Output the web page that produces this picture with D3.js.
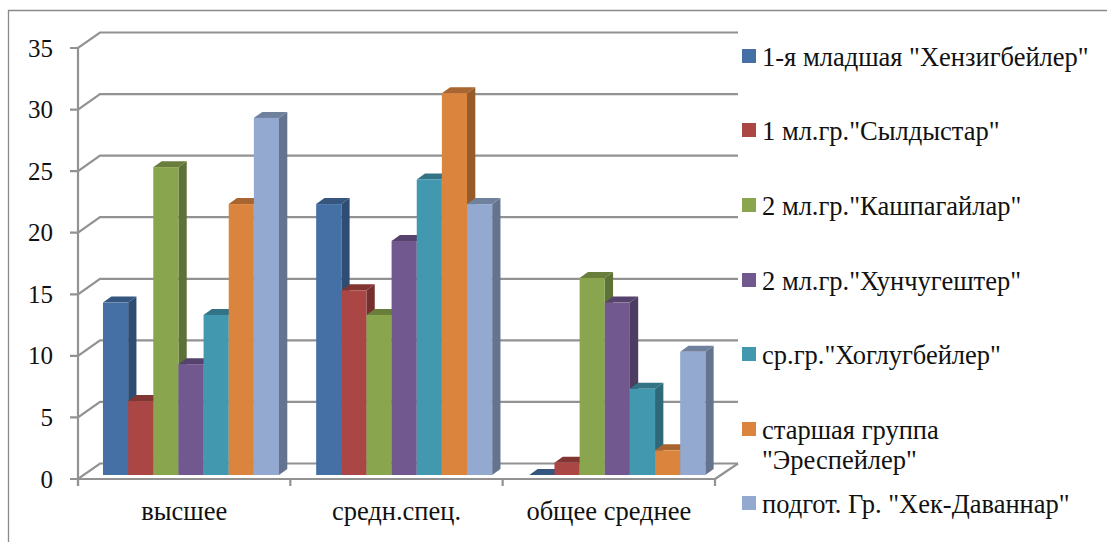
<!DOCTYPE html>
<html><head><meta charset="utf-8">
<script src="https://cdnjs.cloudflare.com/ajax/libs/d3/7.8.5/d3.min.js"></script>
<style>html,body{margin:0;padding:0;background:#fff}svg{display:block}text{font-family:"Liberation Serif",serif;fill:#111}</style>
</head><body><svg id="c" width="1107" height="542"></svg>
<script>
const categories=["высшее","средн.спец.","общее среднее"];
const seriesNames=['1-я младшая "Хензигбейлер"','1 мл.гр."Сылдыстар"','2 мл.гр."Кашпагайлар"','2 мл.гр."Хунчугештер"','ср.гр."Хоглугбейлер"','старшая группа\n"Эреспейлер"','подгот. Гр. "Хек-Даваннар"'];
const s1=[14,22,0],s2=[6,15,1],s3=[25,13,16],s4=[9,19,14],s5=[13,24,7],s6=[22,31,2],s7=[29,22,10];
const seriesValues=[s1,s2,s3,s4,s5,s6,s7];
const colors=["#4470a6","#aa4643","#89a54e","#71588f","#4198af","#db843d","#93a9cf"];
const tickValues=[0,5,10,15,20,25,30,35];
const legendY=[56,130,205,280,354,429,503];

const svg=d3.select("#c");
const y=d3.scaleLinear().domain([0,35]).range([479,48]);
const x=d3.scaleBand().domain(categories).range([78,715]);
const xBars=d3.scaleBand().domain(categories).range([103,742.5]);
const inner=d3.scaleBand().domain(d3.range(7)).range([0,176]);
const wallDx=22,wallDy=15.5,barDx=8.3,barDy=6,barLift=4;
const line="#929292";
svg.append("path").attr("d","M8.5,542V10.5H1107").attr("fill","none").attr("stroke","#8a8a8a").attr("stroke-width",1.3);
const g=svg.append("g").attr("fill","none").attr("stroke",line).attr("stroke-width",2.2);
tickValues.forEach(t=>{
  const Y=y(t);
  g.append("path").attr("d",`M70,${Y}H78L${78+wallDx},${Y-wallDy}H738`);
});
g.append("path").attr("d",`M78,${y(35)}V486`);
g.append("path").attr("d",`M78,${y(0)}H715`);
[...categories.map(c=>x(c)),715].forEach(X=>g.append("path").attr("d",`M${X},${y(0)}V486`));
g.append("path").attr("d",`M715,${y(0)}L738,${y(0)-wallDy}`);
const shade=(c,k)=>d3.rgb(c).darker(k).formatHex();
categories.forEach((c,ci)=>{
  seriesValues.forEach((vals,si)=>{
    const v=vals[ci],x0=xBars(c)+inner(si),w=inner.bandwidth(),yb=y(0)-barLift,yt=y(v)-barLift;
    const b=svg.append("g");
    b.append("path").attr("d",`M${x0+w},${yb}L${x0+w+barDx},${yb-barDy}V${yt-barDy}L${x0+w},${yt}Z`).attr("fill",shade(colors[si],1.05));
    b.append("path").attr("d",`M${x0},${yt}L${x0+barDx},${yt-barDy}H${x0+w+barDx}L${x0+w},${yt}Z`).attr("fill",shade(colors[si],0.75));
    b.append("rect").attr("x",x0).attr("y",yt).attr("width",w).attr("height",yb-yt).attr("fill",colors[si]);
  });
});
svg.append("g").selectAll("text").data(tickValues).join("text")
  .attr("x",53).attr("y",t=>y(t)+8.5).attr("text-anchor","end").attr("font-size",25).text(t=>t);
svg.append("g").selectAll("text").data(categories).join("text")
  .attr("x",c=>x(c)+x.bandwidth()/2).attr("y",520).attr("text-anchor","middle").attr("font-size",26.5).text(c=>c);
seriesNames.forEach((n,i)=>{
  const ly=legendY[i];
  svg.append("rect").attr("x",742).attr("y",ly-7).attr("width",14).attr("height",14).attr("fill",colors[i]);
  n.split("\n").forEach((t,j)=>svg.append("text").attr("x",762).attr("y",ly+9.5+j*30).attr("font-size",26.5).text(t));
});
</script></body></html>
